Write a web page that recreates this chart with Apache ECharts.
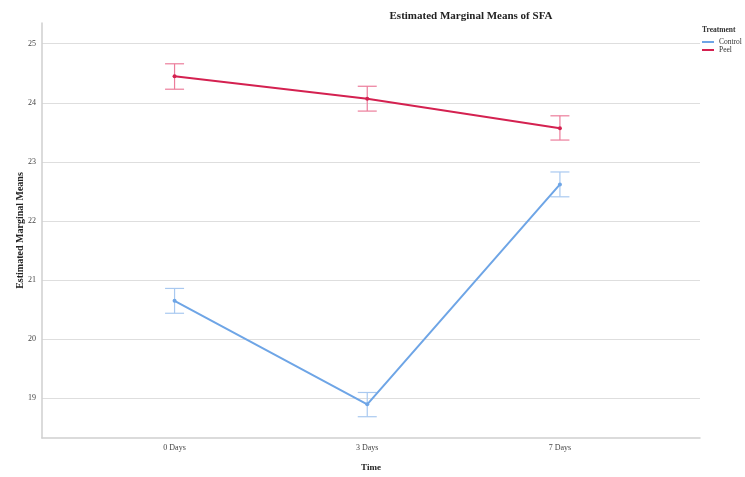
<!DOCTYPE html>
<html>
<head>
<meta charset="utf-8">
<script src="https://cdn.jsdelivr.net/npm/echarts@6/dist/echarts.min.js"></script>
<style>html,body{margin:0;padding:0;background:#fff}#c{width:745px;height:477px}</style>
</head>
<body>
<div id="c"></div>
<script>
var categories = ['0 Days', '3 Days', '7 Days'];
var yTicks = [19, 20, 21, 22, 23, 24, 25];
var controlMean = [20.65, 18.90, 22.62];
var controlLow = [20.44, 18.69, 22.41];
var controlHigh = [20.86, 19.10, 22.83];
var peelMean = [24.45, 24.07, 23.57];
var peelLow = [24.23, 23.86, 23.37];
var peelHigh = [24.66, 24.28, 23.78];

var FONT = '"Liberation Serif", "DejaVu Serif", serif';
var cMain = '#6ea5e6', cErr = '#a9c9f0';
var pMain = '#d42150', pErr = '#ec7d9b';

function pts(vals) { return vals.map(function (v, i) { return [i, v]; }); }
function errData(lo, hi) { return lo.map(function (v, i) { return [i, v, hi[i]]; }); }
function errRender(color) {
  return function (params, api) {
    var x = api.value(0);
    var a = api.coord([x, api.value(1)]);
    var b = api.coord([x, api.value(2)]);
    var hw = 9.5;
    var st = { stroke: color, lineWidth: 1.2 };
    return { type: 'group', children: [
      { type: 'line', shape: { x1: a[0], y1: a[1], x2: b[0], y2: b[1] }, style: st },
      { type: 'line', shape: { x1: a[0] - hw, y1: a[1], x2: a[0] + hw, y2: a[1] }, style: st },
      { type: 'line', shape: { x1: b[0] - hw, y1: b[1], x2: b[0] + hw, y2: b[1] }, style: st }
    ]};
  };
}

var chart = echarts.init(document.getElementById('c'), null, { renderer: 'canvas' });
chart.setOption({
  animation: false,
  backgroundColor: '#fff',
  title: {
    text: 'Estimated Marginal Means of SFA',
    left: 466, top: 6, textAlign: 'center',
    textStyle: { fontFamily: FONT, fontSize: 11, fontWeight: 'bold', color: '#222' }
  },
  legend: {
    orient: 'vertical', left: 702, top: 38, itemGap: 0, padding: 0,
    itemWidth: 12, itemHeight: 2, icon: 'rect',
    textStyle: { fontFamily: FONT, fontSize: 7.5, color: '#333', lineHeight: 8 },
    data: ['Control', 'Peel']
  },
  graphic: [{
    type: 'text', left: 702, top: 26,
    style: { text: 'Treatment', font: 'bold 7.5px ' + FONT, fill: '#333' }
  }],
  grid: { left: 42, right: 45, top: 23, bottom: 33 },
  xAxis: {
    type: 'value', min: -0.688, max: 2.727,
    name: 'Time', nameLocation: 'middle', nameGap: 25, nameMoveOverlap: false,
    nameTextStyle: { fontFamily: FONT, fontSize: 9, fontWeight: 'bold', color: '#222' },
    axisLine: { onZero: false, lineStyle: { color: '#cfcfcf', width: 1.5 } },
    axisTick: { show: false, customValues: [0, 1, 2] },
    splitLine: { show: false },
    axisLabel: {
      customValues: [0, 1, 2], margin: 6,
      fontFamily: FONT, fontSize: 8, color: '#444',
      formatter: function (v) { return categories[Math.round(v)]; }
    }
  },
  yAxis: {
    type: 'value', min: 18.33, max: 25.35,
    name: 'Estimated Marginal Means', nameLocation: 'middle', nameGap: 17, nameMoveOverlap: false,
    nameTextStyle: { fontFamily: FONT, fontSize: 10, fontWeight: 'bold', color: '#222' },
    axisLine: { show: true, onZero: false, lineStyle: { color: '#cfcfcf', width: 1.5 } },
    axisTick: { show: false, customValues: yTicks },
    splitLine: { show: true, lineStyle: { color: '#dedede', width: 1 } },
    axisLabel: {
      customValues: yTicks, margin: 6,
      fontFamily: FONT, fontSize: 8, color: '#444'
    }
  },
  series: [
    { name: 'Control', type: 'custom', renderItem: errRender(cErr), data: errData(controlLow, controlHigh), color: cMain, itemStyle: { color: cMain }, z: 1, silent: true },
    { name: 'Peel', type: 'custom', renderItem: errRender(pErr), data: errData(peelLow, peelHigh), color: pMain, itemStyle: { color: pMain }, z: 1, silent: true },
    { name: 'Control', type: 'line', data: pts(controlMean), color: cMain,
      lineStyle: { color: cMain, width: 2 }, itemStyle: { color: cMain },
      symbol: 'circle', symbolSize: 4, z: 3 },
    { name: 'Peel', type: 'line', data: pts(peelMean), color: pMain,
      lineStyle: { color: pMain, width: 2 }, itemStyle: { color: pMain },
      symbol: 'circle', symbolSize: 4, z: 3 }
  ]
});
</script>
</body>
</html>
